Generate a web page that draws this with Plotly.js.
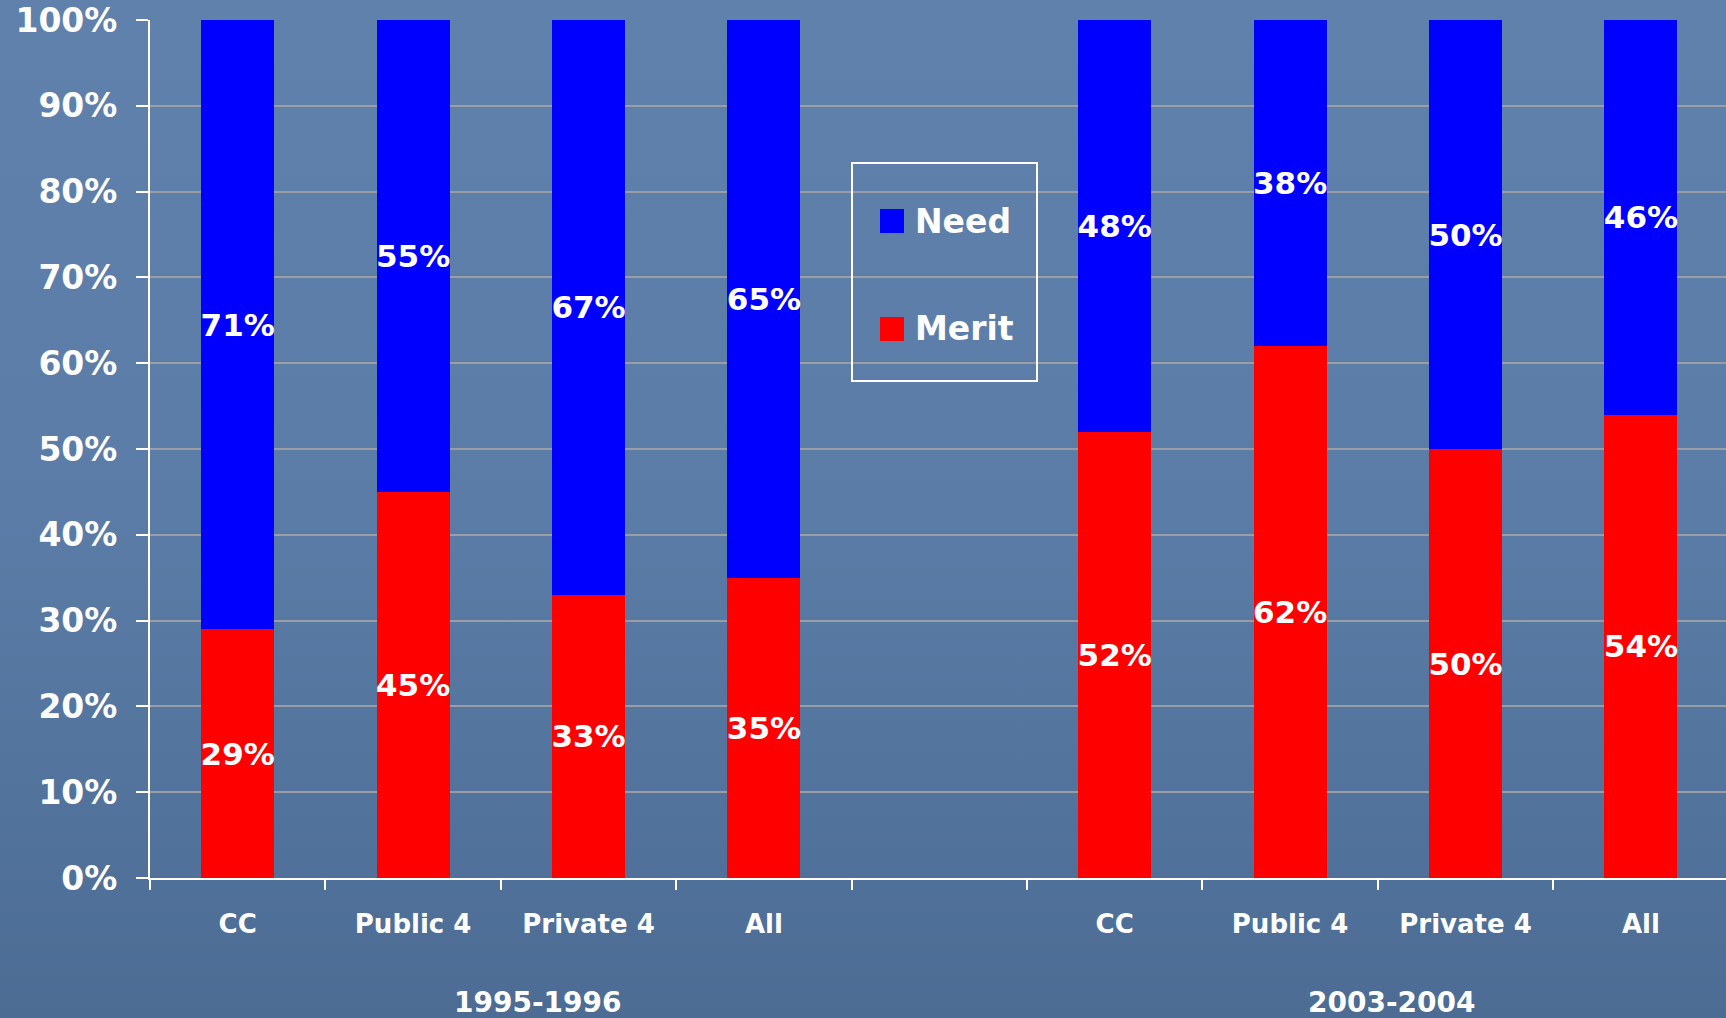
<!DOCTYPE html>
<html>
<head>
<meta charset="utf-8">
<script src="https://cdn.plot.ly/plotly-3.0.1.min.js"></script>
<style>
  html, body { margin: 0; padding: 0; }
  body { width: 1726px; height: 1018px; overflow: hidden;
         background: linear-gradient(180deg, #5f81ab 0%, #5a7ca6 50%, #4c6c94 100%); }
  #chart { width: 1726px; height: 1018px; }
</style>
</head>
<body>
<div id="chart"></div>
<script>
// ---- data ----
const categories = ["CC", "Public 4", "Private 4", "All", "", "CC", "Public 4", "Private 4", "All"];
const merit = [29, 45, 33, 35, null, 52, 62, 50, 54];
const need  = [71, 55, 67, 65, null, 48, 38, 50, 46];
const groups = ["1995-1996", "2003-2004"];
const groupPos = [1.71, 6.58];
const seriesNames = ["Need", "Merit"];
const seriesColors = ["#0000FF", "#FF0000"];
const yTickVals = [0, 10, 20, 30, 40, 50, 60, 70, 80, 90, 100];

// ---- geometry (layout only) ----
const W = 1726, H = 1018;
const M = { l: 150, r: 0, t: 20, b: 140 };
const plotW = W - M.l - M.r, plotH = H - M.t - M.b;
const slotPx = 175.4;
const px2x = px => (px - M.l) / plotW;
const py2y = py => (H - M.b - py) / plotH;

const FONT = "DejaVu Sans, Verdana, sans-serif";

function pick(arr) {
  const xs = [], ys = [];
  arr.forEach((v, i) => { if (v !== null) { xs.push(i); ys.push(v); } });
  return { xs, ys };
}
const m = pick(merit), n = pick(need);

const barCommon = {
  type: "bar",
  width: 0.416,
  textposition: "inside",
  insidetextanchor: "middle",
  textangle: 0,
  constraintext: "none",
  insidetextfont: { family: FONT, size: 31, color: "#ffffff", weight: "bold" },
  hoverinfo: "skip",
  showlegend: false
};

const traces = [
  Object.assign({}, barCommon, { name: seriesNames[1], x: m.xs, y: m.ys,
    text: m.ys.map(v => v + "%"), marker: { color: seriesColors[1] } }),
  Object.assign({}, barCommon, { name: seriesNames[0], x: n.xs, y: n.ys,
    text: n.ys.map(v => v + "%"), marker: { color: seriesColors[0] } })
];

const catIdx = categories.map((c, i) => i);
const boundaries = categories.map((c, i) => i - 0.5).concat([categories.length - 0.5]);

// manual legend
const legendBox = { x0: 852, x1: 1037, y0: 163, y1: 381 };
const legendItems = [
  { name: seriesNames[0], color: seriesColors[0], cy: 221 },
  { name: seriesNames[1], color: seriesColors[1], cy: 329 }
];

const shapes = [
  { type: "rect", xref: "paper", yref: "paper",
    x0: px2x(legendBox.x0), x1: px2x(legendBox.x1), y0: py2y(legendBox.y1), y1: py2y(legendBox.y0),
    line: { color: "#ffffff", width: 2 }, fillcolor: "rgba(0,0,0,0)", layer: "above" }
];
const annotations = [];
legendItems.forEach(it => {
  shapes.push({ type: "rect", xref: "paper", yref: "paper",
    x0: px2x(880), x1: px2x(904), y0: py2y(it.cy + 12), y1: py2y(it.cy - 12),
    line: { width: 0 }, fillcolor: it.color, layer: "above" });
  annotations.push({ xref: "paper", yref: "paper", x: px2x(913), y: py2y(it.cy),
    xanchor: "left", yanchor: "middle", showarrow: false, text: it.name,
    font: { family: FONT, size: 33, color: "#ffffff", weight: "bold" } });
});
groups.forEach((g, i) => {
  annotations.push({ xref: "x", yref: "paper", x: groupPos[i], y: py2y(1002),
    xanchor: "center", yanchor: "middle", showarrow: false, text: g,
    font: { family: FONT, size: 28, color: "#ffffff", weight: "bold" } });
});

const layout = {
  width: W, height: H,
  margin: M,
  paper_bgcolor: "rgba(0,0,0,0)",
  plot_bgcolor: "rgba(0,0,0,0)",
  barmode: "stack",
  showlegend: false,
  xaxis: {
    range: [-0.5, -0.5 + plotW / slotPx],
    tickmode: "array", tickvals: catIdx, ticktext: categories,
    ticks: "", showgrid: false, zeroline: false,
    showline: true, linecolor: "#ffffff", linewidth: 2,
    tickfont: { family: FONT, size: 26, color: "#ffffff", weight: "bold" },
    ticklabelstandoff: 22,
    minor: { tickmode: "array", tickvals: boundaries, ticks: "outside", ticklen: 10,
             tickcolor: "#ffffff", tickwidth: 2, showgrid: false },
    fixedrange: true
  },
  yaxis: {
    range: [0, 100],
    tickmode: "array", tickvals: yTickVals, ticktext: yTickVals.map(v => v + "%"),
    ticks: "outside", ticklen: 12, tickcolor: "#ffffff", tickwidth: 2,
    showline: true, linecolor: "#ffffff", linewidth: 2,
    showgrid: true, gridcolor: "#9a9ea4", gridwidth: 2,
    zeroline: false,
    tickfont: { family: FONT, size: 33, color: "#ffffff", weight: "bold" },
    ticklabelstandoff: 12,
    fixedrange: true
  },
  shapes: shapes,
  annotations: annotations
};

Plotly.newPlot("chart", traces, layout, { displayModeBar: false, staticPlot: true });
</script>
</body>
</html>
